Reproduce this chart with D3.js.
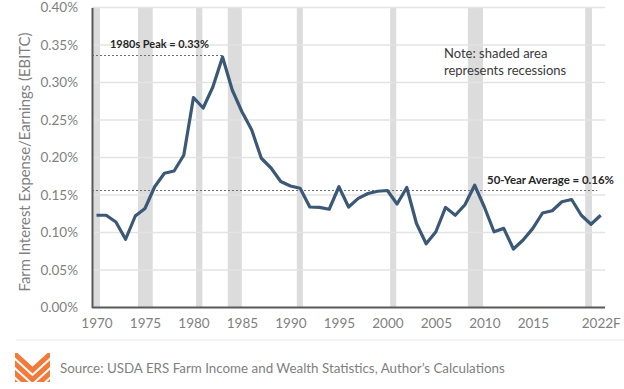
<!DOCTYPE html>
<html><head><meta charset="utf-8">
<script src="https://cdn.jsdelivr.net/npm/d3@7"></script>
<style>body{margin:0;background:#fff}svg{display:block}</style>
</head><body>
<svg id="c" width="624" height="389"></svg>
<script>
const years = d3.range(1970, 2023);
const ratio = [0.123,0.123,0.114,0.091,0.122,0.132,0.161,0.179,0.182,0.203,
  0.280,0.266,0.294,0.334,0.290,0.261,0.237,0.199,0.186,0.168,
  0.162,0.159,0.134,0.1335,0.131,0.161,0.134,0.1455,0.152,0.155,
  0.156,0.138,0.160,0.112,0.085,0.101,0.1335,0.123,0.137,0.163,
  0.134,0.101,0.1055,0.078,0.090,0.1055,0.126,0.129,0.141,0.144,
  0.123,0.111,0.123];
const recessions = [[1969.5,1970.36],[1974.28,1975.8],[1980.27,1980.92],[1983.54,1984.98],
  [1990.66,1991.28],[2000.29,2000.91],[2008.3,2009.86],[2020.4,2021.1]];
const yTicks = [0,0.05,0.10,0.15,0.20,0.25,0.30,0.35,0.40];
const xTicks = [1970,1975,1980,1985,1990,1995,2000,2005,2010,2015,2022];
const xTickLabels = ["1970","1975","1980","1985","1990","1995","2000","2005","2010","2015","2022F"];
const peakValue = 0.336, peakLabel = "1980s Peak = 0.33%";
const avgValue = 0.156, avgLabel = "50-Year Average = 0.16%";
const noteLines = ["Note: shaded area","represents recessions"];
const yTitle = "Farm Interest Expense/Earnings (EBITC)";
const source = "Source: USDA ERS Farm Income and Wealth Statistics, Author\u2019s Calculations";

const svg = d3.select("#c");
const L = 92, R = 605, T = 7.5, B = 307.5;
const x = d3.scaleLinear().domain([1970, 2022]).range([96.5, 600.7]);
const y = d3.scaleLinear().domain([0, 0.4]).range([B, T]);
const font = "Lato, 'Open Sans', sans-serif";

svg.append("defs").append("clipPath").attr("id","plot")
  .append("rect").attr("x",L).attr("y",T).attr("width",R-L).attr("height",B-T);

// recession bands
svg.append("g").attr("clip-path","url(#plot)").selectAll("rect").data(recessions).join("rect")
  .attr("x", d => x(d[0])).attr("width", d => x(d[1]) - x(d[0]))
  .attr("y", T).attr("height", B - T).attr("fill", "#dcdcdc");

// gridlines
svg.append("g").selectAll("line").data(yTicks.slice(1)).join("line")
  .attr("x1", L).attr("x2", R).attr("y1", d => y(d)).attr("y2", d => y(d))
  .attr("stroke", "#e3e3e3").attr("stroke-width", 1.5);

// reference lines
svg.append("line").attr("x1", L).attr("x2", x(1983)).attr("y1", y(peakValue)).attr("y2", y(peakValue))
  .attr("stroke", "#6f6f6f").attr("stroke-width", 1.2).attr("stroke-dasharray", "2,2");
svg.append("line").attr("x1", L).attr("x2", x(2021.65)).attr("y1", y(avgValue)).attr("y2", y(avgValue))
  .attr("stroke", "#6f6f6f").attr("stroke-width", 1.2).attr("stroke-dasharray", "2,2");

// line
svg.append("path").datum(years.map((yr,i)=>[yr, ratio[i]]))
  .attr("fill","none").attr("stroke","#3b5877").attr("stroke-width",3.2)
  .attr("stroke-linejoin","round")
  .attr("d", d3.line().x(d=>x(d[0])).y(d=>y(d[1])));

// axes
const ya = svg.append("g").attr("transform",`translate(${L},0)`)
  .call(d3.axisLeft(y).tickValues(yTicks).tickSize(0).tickPadding(14).tickFormat(d3.format(".2%")).tickFormat(d => (d).toFixed(2) + "%"));
ya.select(".domain").attr("stroke","#595959").attr("stroke-width",2);
ya.selectAll("text").attr("font-family",font).attr("font-size",13.5).attr("fill","#7f7f7f");

const xa = svg.append("g").attr("transform",`translate(0,${B})`)
  .call(d3.axisBottom(x).tickValues(xTicks).tickSize(0).tickPadding(11).tickFormat((d,i)=>xTickLabels[i]));
xa.select(".domain").attr("d", `M${L},0H${R}`).attr("stroke","#595959").attr("stroke-width",2);
xa.selectAll("text").attr("font-family",font).attr("font-size",13.5).attr("fill","#7f7f7f");

function fit(sel, w){ const n = sel.node(); const cur = n.getComputedTextLength(); const fs = +sel.attr("font-size"); sel.attr("font-size", fs*w/cur); }

// annotations
const pk = svg.append("text").attr("x",110).attr("y",48).text(peakLabel)
  .attr("font-family",font).attr("font-weight","bold").attr("font-size",12).attr("fill","#262626");
fit(pk, 99);
const av = svg.append("text").attr("x",487).attr("y",184).text(avgLabel)
  .attr("font-family",font).attr("font-weight","bold").attr("font-size",12).attr("fill","#262626");
fit(av, 127);
svg.append("g").selectAll("text").data(noteLines).join("text")
  .attr("x",444).attr("y",(d,i)=>58+i*16.5).text(d=>d)
  .attr("font-family",font).attr("font-size",13).attr("fill","#3a3a3a");

// y title
const yt = svg.append("text").attr("transform","translate(30,162) rotate(-90)").attr("text-anchor","middle")
  .text(yTitle).attr("font-family",font).attr("font-size",14).attr("fill","#7f7f7f");
fit(yt, 259);

// footer
svg.append("line").attr("x1",16).attr("x2",624).attr("y1",340).attr("y2",340).attr("stroke","#f0f0f0").attr("stroke-width",1.5);
const src = svg.append("text").attr("x",60).attr("y",373).text(source)
  .attr("font-family",font).attr("font-size",14).attr("fill","#7f7f7f");
fit(src, 445);

// logo
svg.append("defs").append("clipPath").attr("id","logo")
  .append("rect").attr("x",15).attr("y",353).attr("width",35).attr("height",29);
svg.append("g").attr("clip-path","url(#logo)").selectAll("path").data([0,1,2,3]).join("path")
  .attr("d", d => `M5,${345+d*9.5}L32.5,${370+d*9.5}L60,${345+d*9.5}`)
  .attr("fill","none").attr("stroke","#f47a3c").attr("stroke-width",5);
</script>
</body></html>
